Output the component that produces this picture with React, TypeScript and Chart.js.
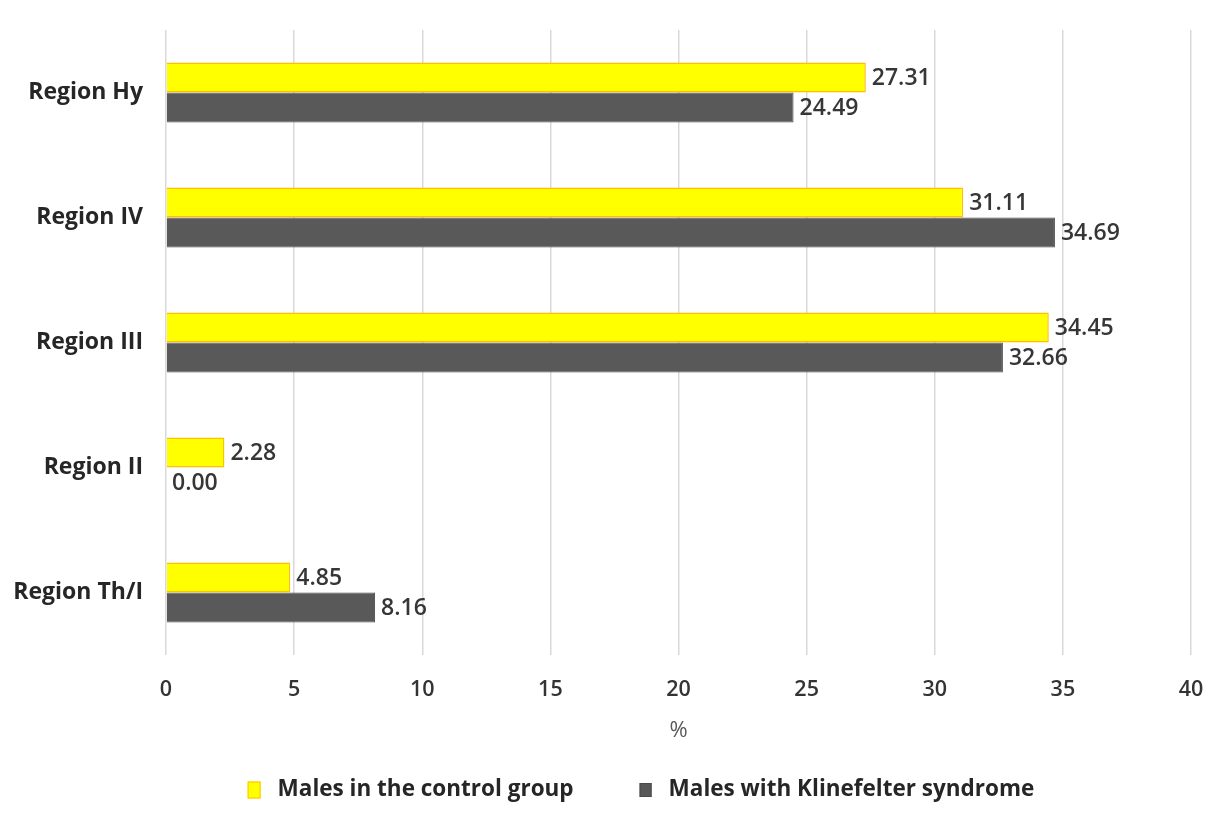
import React, { useEffect, useRef } from "react";
import { Chart, registerables } from "chart.js";

Chart.register(...registerables);

const categories = ["Region Hy", "Region IV", "Region III", "Region II", "Region Th/I"];
const controlValues = [27.31, 31.11, 34.45, 2.28, 4.85];
const klinefelterValues = [24.49, 34.69, 32.66, 0.0, 8.16];
const seriesNames = ["Males in the control group", "Males with Klinefelter syndrome"];
const xTicks = [0, 5, 10, 15, 20, 25, 30, 35, 40];
const xTitle = "%";

const FONT = "'Open Sans', sans-serif";

const dataLabelPlugin = {
  id: "dataLabels",
  afterDatasetsDraw(chart: any) {
    const ctx = chart.ctx;
    ctx.save();
    ctx.font = `600 23px ${FONT}`;
    ctx.fillStyle = "#363636";
    ctx.textAlign = "left";
    ctx.textBaseline = "middle";
    chart.data.datasets.forEach((ds: any, di: number) => {
      const meta = chart.getDatasetMeta(di);
      meta.data.forEach((el: any, i: number) => {
        const v = ds.data[i];
        ctx.fillText(Number(v).toFixed(2), el.x + 6, el.y + 1);
      });
    });
    ctx.restore();
  },
};

const legendPlugin = {
  id: "customLegend",
  afterDraw(chart: any) {
    const ctx = chart.ctx;
    ctx.save();
    ctx.font = `bold 22.5px ${FONT}`;
    ctx.textBaseline = "middle";
    ctx.textAlign = "left";
    const boxSizes = [
      [13, 17],
      [12, 14],
    ];
    const gap = 17;
    const itemGap = 66;
    const widths = chart.data.datasets.map((ds: any) => ctx.measureText(ds.label).width);
    const total =
      widths.reduce((a: number, w: number, i: number) => a + boxSizes[i][0] + gap + w, 0) +
      itemGap * (widths.length - 1);
    const cy = 790;
    let x = 641 - total / 2;
    chart.data.datasets.forEach((ds: any, i: number) => {
      const [bw, bh] = boxSizes[i];
      ctx.fillStyle = ds.backgroundColor;
      ctx.fillRect(x, cy - bh / 2, bw, bh);
      ctx.strokeStyle = ds.borderColor;
      ctx.lineWidth = 1;
      ctx.strokeRect(x + 0.5, cy - bh / 2 + 0.5, bw - 1, bh - 1);
      ctx.fillStyle = "#262626";
      ctx.fillText(ds.label, x + bw + gap, cy);
      x += bw + gap + widths[i] + itemGap;
    });
    ctx.restore();
  },
};

export default function App() {
  const ref = useRef<HTMLCanvasElement | null>(null);
  useEffect(() => {
    if (!ref.current) return;
    const chart = new Chart(ref.current, {
      type: "bar",
      data: {
        labels: categories,
        datasets: [
          {
            label: seriesNames[0],
            data: controlValues,
            backgroundColor: "#FFFF00",
            borderColor: "#FFC000",
            borderWidth: 1.5,
            categoryPercentage: 0.48,
            barPercentage: 1,
          },
          {
            label: seriesNames[1],
            data: klinefelterValues,
            backgroundColor: "#595959",
            borderColor: "#4a4a4a",
            borderWidth: 1,
            categoryPercentage: 0.48,
            barPercentage: 1,
          },
        ],
      },
      options: {
        indexAxis: "y",
        animation: false,
        responsive: true,
        maintainAspectRatio: false,
        layout: { padding: { top: 30, right: 37, bottom: 80, left: 0 } },
        plugins: {
          legend: { display: false },
          tooltip: { enabled: false },
        },
        scales: {
          x: {
            min: 0,
            max: 40,
            afterBuildTicks(scale: any) {
              scale.ticks = xTicks.map((v) => ({ value: v }));
            },
            afterFit(scale: any) {
              scale.height = 95;
              scale.paddingLeft = 0;
              scale.paddingRight = 0;
            },
            grid: { color: "#d9d9d9", lineWidth: 1.5, drawTicks: false },
            border: { display: false },
            ticks: {
              padding: 22,
              color: "#333333",
              font: { family: FONT, size: 21.5, weight: "600" },
            },
            title: {
              display: true,
              text: xTitle,
              color: "#595959",
              font: { family: FONT, size: 22 },
              padding: { top: 0, bottom: 6 },
            },
          },
          y: {
            afterFit(scale: any) {
              scale.width = 166;
              scale.paddingTop = 0;
              scale.paddingBottom = 0;
            },
            grid: { display: false, drawTicks: false },
            border: { display: false },
            ticks: {
              padding: 23,
              color: "#262626",
              font: { family: FONT, size: 23, weight: "bold" },
            },
          },
        },
      },
      plugins: [dataLabelPlugin, legendPlugin],
    } as any);
    return () => chart.destroy();
  }, []);
  return (
    <div style={{ position: "fixed", left: 0, top: 0, width: 1228, height: 830, background: "#fff" }}>
      <canvas ref={ref} />
    </div>
  );
}
